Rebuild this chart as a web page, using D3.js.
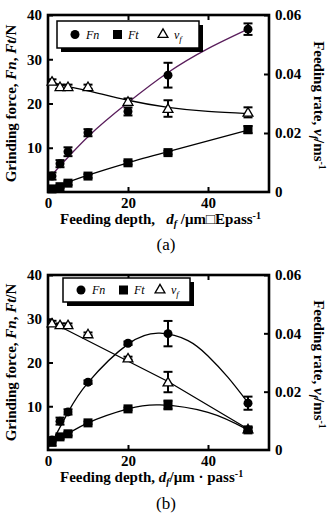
<!DOCTYPE html>
<html>
<head>
<meta charset="utf-8">
<script src="https://cdn.jsdelivr.net/npm/d3@7"></script>
<style>
  body { margin: 0; background: #fff; }
  svg { display: block; }
  text { font-family: "Liberation Serif", "Times New Roman", serif; }
</style>
</head>
<body>
<script>
// feeding depth values (µm/pass)
const depth = [1, 3, 5, 10, 20, 30, 50];
const xTicks = [0, 20, 40];
const forceTicks = [10, 20, 30, 40];
const rateTicks = [0, 0.02, 0.04, 0.06];

// panel (a)
const fnA = [3.6, 6.4, 9.1, 13.4, 18.2, 26.4, 36.8];
const fnErrA = [0.8, 0.8, 1.0, 0.8, 0.9, 2.8, 1.3];
const ftA = [0.7, 1.2, 2.0, 3.6, 6.6, 8.9, 14.1];
const ftErrA = [0.3, 0.3, 0.4, 0.4, 0.4, 0.4, 0.8];
const vfA = [0.0375, 0.0357, 0.0357, 0.0357, 0.0307, 0.0283, 0.0270];
const vfErrA = [0.0007, 0.0007, 0.0007, 0.0007, 0.0010, 0.0028, 0.0017];
const fnFitA = [[0.5, 3.4], [10, 12.5], [20, 20.2], [30, 27.0], [40, 32.4], [50, 36.8]];
const ftFitA = [[1, 0.9], [10, 3.8], [20, 6.6], [30, 9.1], [50, 14.0]];
const vfFitA = [[1, 0.0372], [5, 0.0357], [10, 0.0343], [20, 0.0311], [30, 0.0287], [40, 0.0273], [50, 0.0266]];

// panel (b)
const fnB = [2.3, 6.6, 8.7, 15.5, 24.4, 26.6, 10.7];
const fnErrB = [0.6, 0.8, 0.6, 0.4, 0.4, 2.9, 1.5];
const ftB = [1.8, 3.0, 3.7, 6.2, 9.4, 10.3, 4.6];
const ftErrB = [0.8, 0.5, 0.4, 0.3, 0.3, 1.0, 0.5];
const vfB = [0.0435, 0.0429, 0.0429, 0.0398, 0.0315, 0.0233, 0.0072];
const vfErrB = [0.0008, 0.0005, 0.0005, 0.0005, 0.0005, 0.0035, 0.0006];
const fnFitB = [[1, 1.8], [5, 8.6], [10, 15.4], [20, 24.2], [28, 26.7], [35, 25.0], [40, 21.5], [45, 16.6], [50, 10.8]];
const ftFitB = [[1, 1.5], [10, 6.2], [20, 9.4], [28, 10.3], [40, 8.6], [50, 4.6]];
const vfFitB = [[1, 0.0437], [30, 0.0235], [50, 0.0072]];

const svg = d3.select("body").append("svg")
  .attr("width", 331).attr("height", 521);

function panel(cfg) {
  const left = 48, right = 269, top = cfg.top, bottom = cfg.bottom;
  const x = d3.scaleLinear().domain([0, 55.25]).range([left, right]);
  const y = d3.scaleLinear().domain([0, 40]).range([bottom, top]);
  const y2 = d3.scaleLinear().domain([0, 0.06]).range([bottom, top]);
  const g = svg.append("g");

  // axes (ticks pointing inwards)
  g.append("g").attr("transform", `translate(${left},0)`)
    .call(d3.axisLeft(y).tickValues(forceTicks).tickSize(-5).tickPadding(6));
  g.append("g").attr("transform", `translate(${right},0)`)
    .call(d3.axisRight(y2).tickValues(rateTicks).tickSize(-5).tickPadding(6)
      .tickFormat(d => d === 0 ? "0" : d3.format(".2f")(d)));
  g.append("g").attr("transform", `translate(0,${bottom})`)
    .call(d3.axisBottom(x).tickValues(xTicks).tickSize(-5).tickPadding(5));
  g.append("g").attr("transform", `translate(0,${top})`)
    .call(d3.axisTop(x).tickValues([20, 40]).tickSize(-5).tickFormat(""));
  g.selectAll(".domain").remove();
  g.selectAll(".tick line").attr("stroke", "#000").attr("stroke-width", 2);
  g.selectAll(".tick text").attr("font-size", 15).attr("font-weight", "bold")
    .attr("font-family", "'Liberation Serif', serif").attr("fill", "#000");
  // hide the 0 tick mark on the bottom/right
  g.selectAll(".tick").filter(d => d === 0).select("line").remove();

  g.append("rect").attr("x", left).attr("y", top)
    .attr("width", right - left).attr("height", bottom - top)
    .attr("fill", "none").attr("stroke", "#000").attr("stroke-width", 2.6);

  // fitted curves
  const line = (sc, curve) => d3.line().x(d => x(d[0])).y(d => sc(d[1])).curve(curve);
  g.append("path").attr("d", line(y, d3.curveNatural)(cfg.fnFit))
    .attr("fill", "none").attr("stroke", cfg.fnColor).attr("stroke-width", 1.3);
  g.append("path").attr("d", line(y, d3.curveNatural)(cfg.ftFit))
    .attr("fill", "none").attr("stroke", "#000").attr("stroke-width", 1.3);
  g.append("path").attr("d", line(y2, cfg.vfCurve)(cfg.vfFit))
    .attr("fill", "none").attr("stroke", "#000").attr("stroke-width", 1.3);

  // error bars
  function errs(vals, errsArr, sc) {
    depth.forEach((d, i) => {
      const cx = x(d), y0 = sc(vals[i] - errsArr[i]), y1 = sc(vals[i] + errsArr[i]);
      g.append("line").attr("x1", cx).attr("x2", cx).attr("y1", y0).attr("y2", y1)
        .attr("stroke", "#000").attr("stroke-width", 2);
      [y0, y1].forEach(yy => g.append("line").attr("x1", cx - 4.5).attr("x2", cx + 4.5)
        .attr("y1", yy).attr("y2", yy).attr("stroke", "#000").attr("stroke-width", 2));
    });
  }
  errs(cfg.fn, cfg.fnErr, y);
  errs(cfg.ft, cfg.ftErr, y);
  errs(cfg.vf, cfg.vfErr, y2);

  // markers
  const tri = d3.symbol().type(d3.symbolTriangle).size(42);
  g.selectAll(null).data(depth).join("path")
    .attr("transform", (d, i) => `translate(${x(d)},${y2(cfg.vf[i]) + 1})`)
    .attr("d", tri).attr("fill", "#fff").attr("stroke", "#000").attr("stroke-width", 1.3);
  g.selectAll(null).data(depth).join("rect")
    .attr("x", d => x(d) - 4.5).attr("y", (d, i) => y(cfg.ft[i]) - 4.5)
    .attr("width", 9).attr("height", 9).attr("fill", "#000");
  g.selectAll(null).data(depth).join("circle")
    .attr("cx", d => x(d)).attr("cy", (d, i) => y(cfg.fn[i])).attr("r", 4.5).attr("fill", "#000");

  // legend box with shadow
  const L = cfg.legend;
  g.append("rect").attr("x", L.x + 4).attr("y", L.y + 4).attr("width", L.w).attr("height", L.h).attr("fill", "#000");
  g.append("rect").attr("x", L.x).attr("y", L.y).attr("width", L.w).attr("height", L.h)
    .attr("fill", "#fff").attr("stroke", "#000").attr("stroke-width", 1.5);
  const ly = L.y + L.h / 2;
  g.append("circle").attr("cx", L.x + 18).attr("cy", ly).attr("r", 4.5).attr("fill", "#000");
  g.append("text").attr("x", L.x + 29).attr("y", ly + 4).attr("font-size", 12)
    .attr("font-style", "italic").text("Fn");
  g.append("rect").attr("x", L.x + 56).attr("y", ly - 4.5).attr("width", 9).attr("height", 9).attr("fill", "#000");
  g.append("text").attr("x", L.x + 71).attr("y", ly + 4).attr("font-size", 12)
    .attr("font-style", "italic").text("Ft");
  g.append("path").attr("transform", `translate(${L.x + L.tri},${ly})`).attr("d", tri)
    .attr("fill", "#fff").attr("stroke", "#000").attr("stroke-width", 1.3);
  const vt = g.append("text").attr("x", L.x + L.tri + 11).attr("y", ly + 4).attr("font-size", 12)
    .attr("font-style", "italic");
  vt.append("tspan").text("v");
  vt.append("tspan").attr("dy", 3).attr("font-size", 9).text("f");

  // left axis title
  const lt = g.append("text").attr("transform", `translate(16,${(top + bottom) / 2}) rotate(-90)`)
    .attr("text-anchor", "middle").attr("font-size", 15).attr("font-weight", "bold");
  lt.append("tspan").text("Grinding force, ");
  lt.append("tspan").attr("font-style", "italic").text("Fn");
  lt.append("tspan").text(", ");
  lt.append("tspan").attr("font-style", "italic").text("Ft");
  lt.append("tspan").text("/N");

  // right axis title
  const rt = g.append("text").attr("transform", `translate(314,${(top + bottom) / 2 + 2}) rotate(90)`)
    .attr("text-anchor", "middle").attr("font-size", 15).attr("font-weight", "bold");
  rt.append("tspan").text("Feeding rate, ");
  rt.append("tspan").attr("font-style", "italic").text("v");
  rt.append("tspan").attr("font-style", "italic").attr("font-size", 10).attr("dy", 3).text("f");
  rt.append("tspan").attr("dy", -3).text("/ms");
  rt.append("tspan").attr("font-size", 10).attr("dy", -5).text("-1");

  // bottom axis title
  const bt = g.append("text").attr("x", 60).attr("y", bottom + 32)
    .attr("font-size", 15).attr("font-weight", "bold");
  bt.append("tspan").text(cfg.xPre);
  bt.append("tspan").attr("font-style", "italic").text("d");
  bt.append("tspan").attr("font-style", "italic").attr("font-size", 10).attr("dy", 3).text("f");
  bt.append("tspan").attr("dy", -3).text(cfg.xPost);
  bt.append("tspan").attr("font-size", 10).attr("dy", -5).text("-1");

  svg.append("text").attr("x", 166).attr("y", cfg.capY).attr("text-anchor", "middle")
    .attr("font-size", 17).text(cfg.caption);
}

panel({
  top: 15, bottom: 192, fn: fnA, fnErr: fnErrA, ft: ftA, ftErr: ftErrA, vf: vfA, vfErr: vfErrA,
  fnFit: fnFitA, ftFit: ftFitA, vfFit: vfFitA, fnColor: "#5a1e5c", vfCurve: d3.curveNatural,
  legend: { x: 57, y: 21, w: 142, h: 27, tri: 106 },
  xPre: "Feeding depth,\u00a0\u00a0\u00a0", xPost: "\u00a0/\u03bcm\u25a1Epass",
  capY: 250, caption: "(a)"
});
panel({
  top: 275, bottom: 450, fn: fnB, fnErr: fnErrB, ft: ftB, ftErr: ftErrB, vf: vfB, vfErr: vfErrB,
  fnFit: fnFitB, ftFit: ftFitB, vfFit: vfFitB, fnColor: "#000", vfCurve: d3.curveLinear,
  legend: { x: 63, y: 278, w: 127, h: 24, tri: 97 },
  xPre: "Feeding depth, ", xPost: "/\u03bcm \u00b7 pass",
  capY: 509, caption: "(b)"
});
</script>
</body>
</html>
